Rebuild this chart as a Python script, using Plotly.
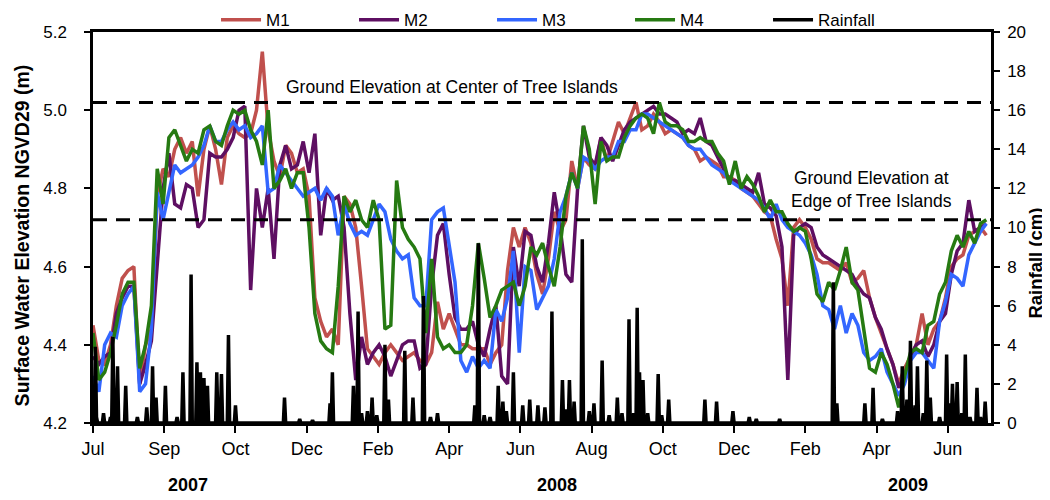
import numpy as np
import pandas as pd
import plotly.graph_objects as go

# ---------------- data ----------------
start = pd.Timestamp("2007-07-01")
level_step_days = 5  # water levels read every 5 days

M1 = [4.45, 4.36, 4.35, 4.40, 4.50, 4.57, 4.59, 4.60, 4.30, 4.40,
      4.44, 4.78, 4.85, 4.83, 4.90, 4.93, 4.89, 4.92, 4.78, 4.90,
      4.96, 4.90, 4.81, 4.93, 4.96, 4.94, 4.93, 4.94, 5.00, 5.15,
      4.95, 4.87, 4.83, 4.91, 4.89, 4.84, 4.85, 4.78, 4.52, 4.46,
      4.42, 4.44, 4.40, 4.78, 4.76, 4.70, 4.55, 4.39, 4.37, 4.35,
      4.38, 4.40, 4.38, 4.36, 4.37, 4.38, 4.36, 4.35, 4.38, 4.51,
      4.44, 4.48, 4.44, 4.40, 4.40, 4.39, 4.39, 4.39, 4.35, 4.38,
      4.40, 4.59, 4.70, 4.65, 4.70, 4.66, 4.58, 4.53, 4.62, 4.74,
      4.69, 4.72, 4.87, 4.80, 4.88, 4.86, 4.85, 4.93, 4.87, 4.92,
      4.97, 4.94, 4.98, 5.02, 4.95, 4.96, 4.99, 4.97, 4.94, 4.95,
      4.94, 4.93, 4.91, 4.90, 4.87, 4.88, 4.87, 4.86, 4.83, 4.83,
      4.82, 4.80, 4.79, 4.78, 4.76, 4.74, 4.73, 4.67, 4.62, 4.50,
      4.70, 4.72, 4.70, 4.67, 4.62, 4.61, 4.61, 4.60, 4.59, 4.61,
      4.56, 4.57, 4.59, 4.52, 4.47, 4.43, 4.39, 4.35, 4.30, 4.34,
      4.37, 4.40, 4.48, 4.40, 4.44, 4.46, 4.52, 4.60, 4.62, 4.63,
      4.68, 4.69, 4.70, 4.68]

M2 = [4.37, 4.35, 4.37, 4.38, 4.48, 4.52, 4.55, 4.55, 4.30, 4.35,
      4.41, 4.62, 4.80, 4.89, 4.76, 4.75, 4.81, 4.80, 4.70, 4.72,
      4.89, 4.88, 4.88, 4.90, 4.93, 5.00, 5.01, 4.54, 4.80, 4.70,
      4.80, 4.62, 4.86, 4.91, 4.85, 4.86, 4.92, 4.84, 4.94, 4.68,
      4.80, 4.77, 4.78, 4.70, 4.48, 4.31, 4.42, 4.35, 4.38, 4.40,
      4.37, 4.32, 4.36, 4.40, 4.41, 4.41, 4.34, 4.35, 4.55, 4.68,
      4.71, 4.58, 4.47, 4.44, 4.44, 4.46, 4.40, 4.37, 4.44, 4.50,
      4.32, 4.30, 4.65, 4.55, 4.69, 4.68, 4.60, 4.56, 4.66, 4.79,
      4.70, 4.58, 4.56, 4.80, 4.96, 4.88, 4.86, 4.93, 4.91, 4.87,
      4.91, 4.95, 4.97, 4.98, 4.99, 5.00, 5.01, 4.99, 4.99, 4.98,
      4.97, 4.94, 4.95, 4.94, 4.98, 4.92, 4.91, 4.88, 4.85, 4.82,
      4.82, 4.81, 4.80, 4.79, 4.84, 4.76, 4.75, 4.73, 4.65, 4.31,
      4.68, 4.70, 4.71, 4.70, 4.65, 4.63, 4.62, 4.61, 4.60, 4.59,
      4.58, 4.55, 4.53, 4.52, 4.47, 4.44, 4.39, 4.35, 4.29, 4.32,
      4.37, 4.40, 4.41, 4.37, 4.40, 4.46, 4.48, 4.58, 4.64, 4.66,
      4.77, 4.69, 4.70, 4.71]

M3 = [4.32, 4.28, 4.40, 4.43, 4.42, 4.50, 4.53, 4.55, 4.28, 4.30,
      4.44, 4.79, 4.72, 4.79, 4.86, 4.84, 4.85, 4.86, 4.88, 4.91,
      4.96, 4.92, 4.92, 4.95, 4.97, 4.95, 4.96, 4.93, 4.94, 4.96,
      4.79, 4.80, 4.86, 4.84, 4.82, 4.80, 4.78, 4.79, 4.80, 4.77,
      4.80, 4.78, 4.68, 4.76, 4.71, 4.68, 4.69, 4.68, 4.72, 4.76,
      4.74, 4.67, 4.64, 4.62, 4.63, 4.52, 4.50, 4.50, 4.72, 4.74,
      4.75, 4.66, 4.56, 4.36, 4.33, 4.37, 4.34, 4.36, 4.34, 4.49,
      4.46, 4.52, 4.64, 4.38, 4.60, 4.59, 4.49, 4.52, 4.55, 4.62,
      4.74, 4.78, 4.84, 4.80, 4.88, 4.87, 4.85, 4.87, 4.88, 4.88,
      4.92, 4.92, 4.95, 4.95, 4.99, 4.99, 4.98, 4.97, 4.96, 4.95,
      4.94, 4.93, 4.91, 4.90, 4.90, 4.88, 4.86, 4.85, 4.84, 4.82,
      4.81, 4.80, 4.79, 4.78, 4.77, 4.75, 4.72, 4.76, 4.72, 4.70,
      4.69, 4.68, 4.66, 4.63, 4.58, 4.50, 4.49, 4.44, 4.50, 4.43,
      4.48, 4.45, 4.38, 4.36, 4.37, 4.39, 4.33, 4.30, 4.27, 4.30,
      4.36, 4.38, 4.38, 4.36, 4.34, 4.46, 4.51, 4.58, 4.57, 4.55,
      4.63, 4.66, 4.69, 4.71]

M4 = [4.43, 4.31, 4.33, 4.38, 4.45, 4.53, 4.56, 4.56, 4.34, 4.40,
      4.50, 4.85, 4.76, 4.93, 4.95, 4.91, 4.87, 4.90, 4.89, 4.95,
      4.96, 4.92, 4.91, 4.96, 5.00, 4.99, 5.00, 4.95, 4.92, 4.86,
      5.00, 4.80, 4.82, 4.85, 4.80, 4.84, 4.84, 4.70, 4.48, 4.41,
      4.39, 4.38, 4.55, 4.78, 4.74, 4.77, 4.72, 4.70, 4.77, 4.72,
      4.44, 4.45, 4.82, 4.70, 4.67, 4.65, 4.62, 4.43, 4.62, 4.42,
      4.39, 4.40, 4.38, 4.38, 4.40, 4.50, 4.66, 4.57, 4.47, 4.50,
      4.54, 4.55, 4.56, 4.50, 4.55, 4.65, 4.63, 4.66, 4.60, 4.55,
      4.65, 4.78, 4.84, 4.80, 4.96, 4.90, 4.76, 4.92, 4.87, 4.88,
      4.88, 4.93, 4.96, 4.98, 4.99, 4.98, 4.94, 5.02, 4.97, 4.96,
      4.96, 4.95, 4.92, 4.92, 4.93, 4.92, 4.92, 4.89, 4.87, 4.81,
      4.87, 4.80, 4.83, 4.81, 4.78, 4.74, 4.77, 4.74, 4.74, 4.71,
      4.69, 4.70, 4.69, 4.62, 4.53, 4.51, 4.56, 4.54, 4.59, 4.65,
      4.56, 4.54, 4.44, 4.34, 4.33, 4.38, 4.35, 4.30, 4.24, 4.32,
      4.38, 4.39, 4.38, 4.45, 4.46, 4.53, 4.56, 4.64, 4.68, 4.65,
      4.69, 4.66, 4.71, 4.72]

# rainfall events: day after 1 Jul 2007, amount (cm); other days had no rain
rain_day = [2, 3, 9, 15, 17, 21, 28, 38, 46, 51, 54, 62, 72, 77, 84, 89, 92, 95, 98,
            106, 110, 116, 122, 164, 177, 188, 203, 205, 223, 227, 230, 235, 239, 243,
            250, 253, 267, 274, 283, 289, 295, 327, 330, 335, 340, 347, 351, 354, 360,
            368, 374, 381, 387, 393, 402, 405, 408, 412, 419, 425, 429, 436, 442, 449,
            453, 459, 463, 466, 468, 471, 475, 484, 487, 493, 524, 534, 548, 562, 568,
            588, 634, 637, 661, 668, 676, 689, 693, 697, 700, 704, 706, 711, 714, 717,
            725, 731, 734, 736, 740, 744, 747, 751, 757, 760, 764]
rain_cm = [3.9, 0.3, 0.5, 0.3, 4.4, 2.9, 1.9, 0.3, 0.8, 2.9, 1.3, 1.9, 0.3, 2.6, 7.6, 3.1, 2.6, 2.3, 1.9,
           2.6, 2.5, 4.5, 0.9, 1.3, 0.2, 0.15, 1.0, 2.6, 1.9, 5.7, 0.5, 0.6, 1.3, 0.4,
           4.0, 1.2, 3.7, 1.3, 6.5, 0.3, 0.5, 0.9, 9.2, 0.4, 0.3, 1.9, 1.1, 0.6, 2.6,
           0.9, 1.2, 0.9, 0.8, 5.7, 2.2, 0.7, 2.2, 1.1, 9.4, 0.6, 1.0, 3.2, 0.4, 1.3,
           0.5, 5.3, 0.5, 5.9, 2.6, 2.2, 0.5, 2.5, 0.4, 1.2, 1.2, 1.1, 0.6, 0.3, 0.2,
           0.2, 7.2, 1.0, 1.0, 1.8, 0.2, 0.6, 2.9, 1.2, 4.2, 0.9, 2.9, 0.5, 3.2, 1.3,
           0.3, 3.5, 1.0, 2.0, 2.1, 0.5, 3.5, 0.3, 1.8, 0.3, 1.1]
rain_last_day = 766

tick_text = ["Jul", "Sep", "Oct", "Dec", "Feb", "Apr", "Jun", "Aug", "Oct", "Dec", "Feb", "Apr", "Jun"]
tick_step_days = 61
x_end_day = 769
years = ["2007", "2008", "2009"]
year_day = [81, 397, 698]

center_ground = 5.02
edge_ground = 4.72

series_names = ["M1", "M2", "M3", "M4"]
series_colors = ["#C0504D", "#5E0F62", "#3366FF", "#267A12"]

# ---------------- build ----------------
level_dates = start + pd.to_timedelta(np.arange(len(M1)) * level_step_days, unit="D")
rain_daily = np.zeros(rain_last_day + 1)
rain_daily[rain_day] = rain_cm
rain_dates = start + pd.to_timedelta(np.arange(rain_last_day + 1), unit="D")

FONT = "Liberation Sans, Arial, sans-serif"
fig = go.Figure()
for name, vals, col in zip(series_names, [M1, M2, M3, M4], series_colors):
    fig.add_trace(go.Scatter(x=level_dates, y=vals, name=name, mode="lines",
                             line=dict(color=col, width=3.5)))
fig.add_trace(go.Scatter(x=rain_dates, y=rain_daily, name="Rainfall", mode="lines",
                         line=dict(color="black", width=3.5), yaxis="y2"))

tickvals = [start + pd.Timedelta(days=tick_step_days * i) for i in range(len(tick_text))]

for lvl in [center_ground, edge_ground]:
    fig.add_shape(type="line", xref="paper", x0=0, x1=1, yref="y", y0=lvl, y1=lvl,
                  line=dict(color="black", width=3, dash="14px,9px"), layer="above")

ann = []
ann.append(dict(text="Ground Elevation at Center of Tree Islands", xref="paper", x=0.40,
                xanchor="center", yref="y", y=5.06, showarrow=False,
                font=dict(size=17.5, color="black")))
ann.append(dict(text="Ground Elevation at<br>Edge of Tree Islands", xref="paper", x=0.867,
                xanchor="center", yref="y", y=4.797, showarrow=False,
                font=dict(size=17.5, color="black")))
for yr, d in zip(years, year_day):
    ann.append(dict(text="<b>%s</b>" % yr, xref="x", x=start + pd.Timedelta(days=d),
                    xanchor="center", yref="paper", y=-0.158, showarrow=False,
                    yanchor="middle", font=dict(size=18, color="black")))
ann.append(dict(text="<b>Surface Water Elevation NGVD29 (m)</b>", xref="paper", x=-0.079,
                xanchor="center", yref="paper", y=0.48, yanchor="middle", textangle=-90,
                showarrow=False, font=dict(size=19.5, color="black")))
ann.append(dict(text="<b>Rainfall (cm)</b>", xref="paper", x=1.05, xanchor="center",
                yref="paper", y=0.41, yanchor="middle", textangle=-90, showarrow=False,
                font=dict(size=18.5, color="black")))

# the page body adds an 8 px offset, so margins are reduced on top/left by 8 px
fig.update_layout(
    width=1050, height=500,
    margin=dict(l=85, r=67, t=24, b=85, autoexpand=False),
    paper_bgcolor="white", plot_bgcolor="white",
    font=dict(family=FONT, color="black", size=16),
    showlegend=True,
    legend=dict(orientation="h", x=0.137, xanchor="left", y=1.03, yanchor="middle",
                entrywidth=83, entrywidthmode="pixels", font=dict(size=17),
                bgcolor="rgba(0,0,0,0)", tracegroupgap=0, itemwidth=40),
    xaxis=dict(type="date", range=[start, start + pd.Timedelta(days=x_end_day)],
               tickvals=tickvals, ticktext=tick_text, ticks="outside", ticklen=7,
               tickwidth=2, tickcolor="black", showline=True, linecolor="black",
               linewidth=2.5, mirror=True, showgrid=False, zeroline=False,
               tickfont=dict(size=18), ticklabelstandoff=1),
    yaxis=dict(range=[4.2, 5.2], dtick=0.2, tickformat=".1f", ticks="outside",
               ticklen=6, tickwidth=2, tickcolor="black", showline=True,
               linecolor="black", linewidth=2.5, showgrid=False, zeroline=False,
               tickfont=dict(size=17), ticklabelstandoff=14),
    yaxis2=dict(range=[0, 20], dtick=2, overlaying="y", side="right", ticks="outside",
                ticklen=6, tickwidth=2, tickcolor="black", showline=True,
                linecolor="black", linewidth=2.5, showgrid=False, zeroline=False,
                tickfont=dict(size=17), ticklabelstandoff=4),
    annotations=ann,
)

fig.write_html("out.html")
